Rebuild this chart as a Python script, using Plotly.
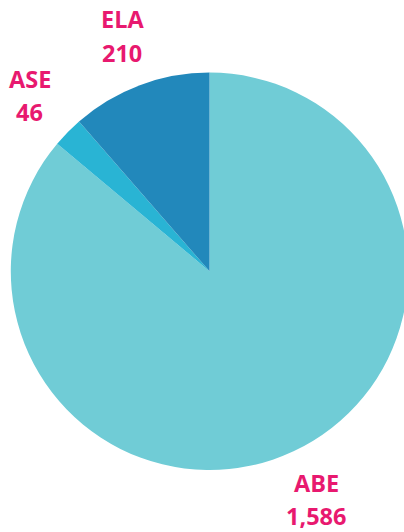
import plotly.graph_objects as go

labels = ["ABE", "ASE", "ELA"]
values = [1586, 46, 210]
colors = ["#70CCD6", "#29B4D4", "#2288BB"]

# canvas slightly wider than the window so the pie can run past the right edge
W, H = 412, 532
# label anchor positions in pixels (centre of name, centre of value)
label_pos = {
    "ABE": ((316, 483), (316, 516)),
    "ASE": ((30, 79), (30, 112)),
    "ELA": ((123, 19), (122, 52.5)),
}

fig = go.Figure(go.Pie(
    labels=labels,
    values=values,
    marker=dict(colors=colors, line=dict(width=0)),
    sort=False,
    direction="clockwise",
    rotation=0,
    textinfo="none",
    hoverinfo="label+value",
    domain=dict(x=[10.8 / W, 408.2 / W], y=[(H - 470) / H, (H - 72.6) / H]),
))

pink = "#E8196F"
font = dict(family="Open Sans", size=23.5, color=pink)
annotations = []
for lab, val in zip(labels, values):
    (nx, ny), (vx, vy) = label_pos[lab]
    annotations.append(dict(text=f"<b>{lab}</b>", x=nx / W, y=1 - ny / H, xref="paper", yref="paper",
                            xanchor="center", yanchor="middle", showarrow=False, font=font))
    annotations.append(dict(text=f"<b>{val:,}</b>", x=vx / W, y=1 - vy / H, xref="paper", yref="paper",
                            xanchor="center", yanchor="middle", showarrow=False, font=font))

fig.update_layout(
    width=W, height=H,
    margin=dict(l=0, r=0, t=0, b=0),
    paper_bgcolor="white",
    plot_bgcolor="white",
    showlegend=False,
    annotations=annotations,
)

fig.write_html(
    "out.html",
    config={"displayModeBar": False},
    post_script="document.body.style.margin='0';document.body.style.overflow='hidden';",
)
